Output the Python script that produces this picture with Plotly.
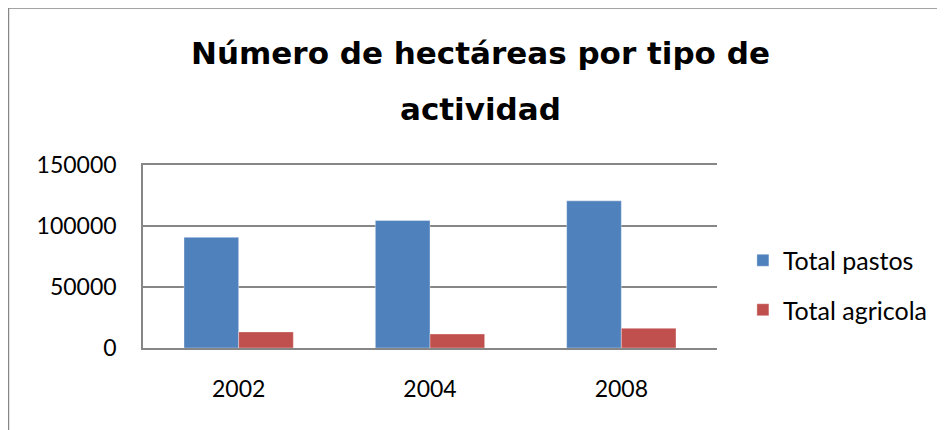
import plotly.graph_objects as go

years = ["2002", "2004", "2008"]
total_pastos = [90700, 104500, 120600]
total_agricola = [13200, 11500, 16200]
series_names = ["Total pastos", "Total agricola"]
title_lines = ["Número de hectáreas por tipo de", "actividad"]

BLUE = "#4F81BD"
RED = "#C0504D"
GRID = "#868686"

fig = go.Figure()
fig.add_trace(go.Bar(x=years, y=total_pastos, name=series_names[0], legendgroup="a",
                     marker=dict(color=BLUE, line=dict(color="rgba(255,255,255,0.45)", width=0.8))))
fig.add_trace(go.Bar(x=years, y=total_agricola, name=series_names[1], legendgroup="b",
                     marker=dict(color=RED, line=dict(color="rgba(255,255,255,0.45)", width=0.8))))

# page offset of the figure inside the browser window (body margin)
OFF = 8
SW, SH = 945, 430
W, H = SW - OFF, SH - OFF
# plot area in screen pixels
SL, SR, ST, SB = 143, 719, 165, 348
L, T = SL - OFF, ST - OFF
R, B = SW - SR, SH - SB
pw, ph = W - L - R, H - T - B

def px(xs):
    return (xs - SL) / pw

def py(ys):
    return (SB - ys) / ph

fig.update_layout(
    width=W, height=H,
    margin=dict(l=L, r=R, t=T, b=B, pad=0),
    paper_bgcolor="white", plot_bgcolor="white",
    barmode="group", bargap=1.5 / 3.5, bargroupgap=0,
    font=dict(family="Lato, 'Open Sans', sans-serif", size=23, color="#000000"),
    showlegend=True,
    legend=dict(x=px(745), xanchor="left", y=py(285), yanchor="middle",
                traceorder="grouped", tracegroupgap=14,
                font=dict(size=25), bgcolor="rgba(0,0,0,0)"),
    xaxis=dict(type="category", showline=True, mirror=True, linecolor=GRID, linewidth=1.5,
               showgrid=False, ticks="outside", ticklen=20, tickcolor="rgba(0,0,0,0)",
               tickfont=dict(size=23)),
    yaxis=dict(range=[0, 150000], dtick=50000, tick0=0, tickformat="d",
               showline=True, linecolor=GRID, linewidth=1.5,
               showgrid=True, gridcolor=GRID, gridwidth=1.5, zeroline=False,
               ticks="outside", ticklen=20, tickcolor="rgba(0,0,0,0)",
               tickfont=dict(size=23)),
    annotations=[
        dict(text="<b>%s</b>" % title_lines[0], xref="paper", yref="paper",
             x=px(482), y=py(53), xanchor="center", yanchor="middle", showarrow=False,
             font=dict(family="DejaVu Sans", size=31, color="#000000")),
        dict(text="<b>%s</b>" % title_lines[1], xref="paper", yref="paper",
             x=px(482), y=py(109), xanchor="center", yanchor="middle", showarrow=False,
             font=dict(family="DejaVu Sans", size=31, color="#000000")),
    ],
    shapes=[
        dict(type="line", xref="paper", yref="paper", x0=px(8), x1=px(2000), y0=py(8), y1=py(8),
             line=dict(color=GRID, width=1.5)),
        dict(type="line", xref="paper", yref="paper", x0=px(8), x1=px(8), y0=py(8), y1=py(2000),
             line=dict(color=GRID, width=1.5)),
    ],
)

fig.write_html("out.html")
